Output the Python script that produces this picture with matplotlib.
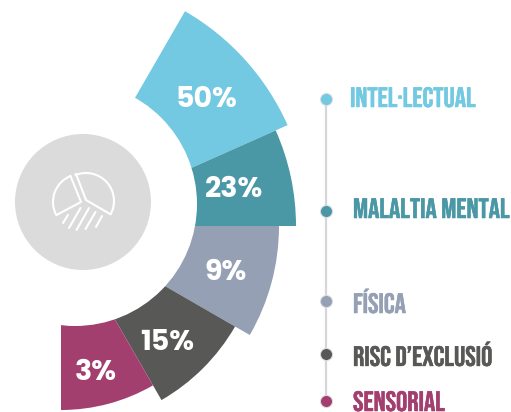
import matplotlib
matplotlib.use('Agg')
import matplotlib.pyplot as plt
import matplotlib.patheffects as pe
from matplotlib.patches import Wedge, Circle, Arc

# categories and values
labels = ['INTEL·LECTUAL', 'MALALTIA MENTAL', 'FÍSICA', 'RISC D’EXCLUSIÓ', 'SENSORIAL']
percents = ['50%', '23%', '9%', '15%', '3%']
colors = ['#72C9E1', '#4A97A6', '#95A0B5', '#585857', '#A33F6F']

# the wedges are not to scale in the original, so angles are read off the picture
angle_from = [24, 0, -30, -60, -90]
angle_to = [60, 24, 0, -30, -60]
radius = [248, 235, 218, 201, 184]

pct_x = [206, 234, 226, 167, 96]
pct_y = [100.5, 190.5, 273, 343, 373]

dot_y = [99, 211, 301, 354, 401]
label_x = [350, 353, 353, 353, 353]
label_y = [97, 208, 301, 354, 401]

pct_font = ['Poppins', 'Inter', 'DejaVu Sans']
label_font = ['Bebas Neue', 'Oswald', 'DejaVu Sans']

fig = plt.figure(figsize=(5.11, 4.12), dpi=100)
ax = fig.add_axes([0, 0, 1, 1])
ax.set_xlim(0, 511)
ax.set_ylim(412, 0)  # pixel coords, y goes down
ax.axis('off')

cx, cy = 61, 226
for i in range(5):
    # y axis is flipped so the angles go the other way round
    ax.add_patch(Wedge((cx, cy), radius[i], -angle_to[i], -angle_from[i],
                       facecolor=colors[i], edgecolor='none'))

# white hole and grey disc
ax.add_patch(Circle((75, 204), 122, facecolor='white', edgecolor='none'))
ax.add_patch(Circle((83, 202), 68, facecolor='#DBDBDB', edgecolor='none'))

# little pie icon
lw = 1.5
ax.add_patch(Arc((81, 202), 56, 56, theta1=-208, theta2=-111, color='white', lw=lw))
ax.add_patch(Arc((86, 201), 56, 56, theta1=-114, theta2=30, color='white', lw=lw))
ax.plot([56.5, 81, 70.5], [215, 202, 176], color='white', lw=lw, solid_joinstyle='miter')
ax.plot([76, 86, 110], [174, 200, 214], color='white', lw=lw, solid_joinstyle='miter')
hatch = [(63, 223, 68, 215), (69, 228, 80.5, 208), (76.5, 230, 89, 208),
         (85.5, 229, 95.5, 212), (96, 227, 102, 216)]
for x0, y0, x1, y1 in hatch:
    ax.plot([x0, x1], [y0, y1], color='white', lw=lw, solid_capstyle='round')

for i in range(5):
    ax.text(pct_x[i], pct_y[i], percents[i], color='white', fontsize=20.5,
            fontweight='bold', family=pct_font, ha='center', va='center')

# timeline on the right
ax.plot([326, 326], [dot_y[0], dot_y[-1]], color='#D5D5DA', lw=1.6, zorder=2)
for i in range(5):
    ax.scatter([326], [dot_y[i]], s=75, color=colors[i], edgecolor='#DDDDE0',
               linewidth=0.7, zorder=3)
    # thin stroke to get the heavier look of the original
    ax.text(label_x[i], label_y[i], labels[i], color=colors[i], fontsize=20.2,
            fontweight='bold', family=label_font, ha='left', va='center',
            path_effects=[pe.withStroke(linewidth=0.4, foreground=colors[i])])

fig.savefig('out.png', dpi=100)
